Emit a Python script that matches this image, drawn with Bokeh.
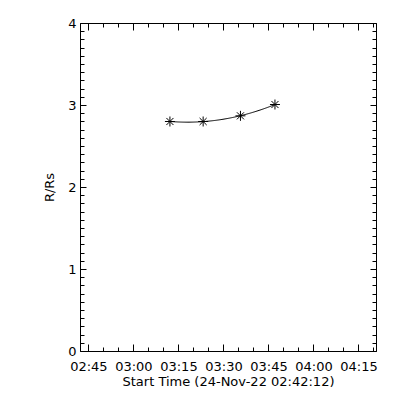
import numpy as np
import pandas as pd
from bokeh.plotting import figure
from bokeh.models import (Range1d, LinearAxis, DatetimeAxis, FixedTicker,
                          SingleIntervalTicker, DatetimeTickFormatter,
                          CustomLabelingPolicy)
from bokeh.embed import file_html
from bokeh.resources import INLINE

# ---- data ----
date = "2022-11-24"
start_time = "02:42:12"
end_time = "04:20:50"
times = ["03:12:00", "03:23:04", "03:35:30", "03:47:00"]
heights = [2.805, 2.805, 2.874, 3.012]
x_tick_labels = ["02:45", "03:00", "03:15", "03:30", "03:45", "04:00", "04:15"]
y_range = [0, 4]
x_title = "Start Time (24-Nov-22 02:42:12)"
y_title = "R/Rs"

def to_ms(hms):
    return pd.Timestamp(f"{date} {hms}").value / 1e6

t_ms = np.array([to_ms(t) for t in times])
h = np.array(heights)

# quadratic fit through the points (as drawn by the original)
rel = (t_ms - t_ms[0]) / 60000.0
coef = np.polyfit(rel, h, 2)
fit_rel = np.linspace(rel[0], rel[-1], 100)
fit_t = t_ms[0] + fit_rel * 60000.0
fit_h = np.polyval(coef, fit_rel)

x0, x1 = to_ms(start_time), to_ms(end_time)
major = [to_ms(l + ":00") for l in x_tick_labels]
step = 5 * 60000.0
minor = list(np.arange(major[0] - step, x1, step))

FONT = "DejaVu Sans"
FS = "13px"

p = figure(width=392, height=392, output_backend="svg", toolbar_location=None,
           x_axis_type=None, y_axis_type=None,
           x_range=Range1d(x0, x1), y_range=Range1d(*y_range),
           min_border_left=80, min_border_right=16, min_border_top=23,
           min_border_bottom=41)
p.outline_line_color = None
p.xgrid.visible = False
p.ygrid.visible = False
p.background_fill_color = "white"
p.border_fill_color = "white"

fmt = DatetimeTickFormatter(seconds="%H:%M", minsec="%H:%M", minutes="%H:%M",
                            hourmin="%H:%M", hours="%H:%M", days="%H:%M")
fmt.context = None

no_labels = CustomLabelingPolicy(code="if (false) { yield 0 }")

def style(ax, labels=True, tin=7, tmin=4):
    ax.axis_line_color = "black"
    ax.axis_line_width = 1
    ax.major_tick_in = tin
    ax.major_tick_out = 0
    ax.minor_tick_in = tmin
    ax.minor_tick_out = 0
    ax.major_tick_line_color = "black"
    ax.minor_tick_line_color = "black"
    if labels:
        ax.major_label_text_font = FONT
        ax.major_label_text_font_size = FS
        ax.major_label_text_color = "black"
        ax.axis_label_text_font = FONT
        ax.axis_label_text_font_size = FS
        ax.axis_label_text_font_style = "normal"
        ax.axis_label_text_color = "black"
    else:
        ax.major_label_text_font_size = "0px"
        ax.major_label_standoff = 0
        ax.major_label_policy = no_labels

xt = FixedTicker(ticks=major, minor_ticks=minor)
yt = SingleIntervalTicker(interval=1, num_minor_ticks=10)

xb = DatetimeAxis(ticker=xt, formatter=fmt, axis_label=x_title)
style(xb)
xb.major_label_standoff = 7
xb.axis_label_standoff = -3
p.add_layout(xb, "below")

xa = DatetimeAxis(ticker=xt, formatter=fmt)
style(xa, labels=False)
p.add_layout(xa, "above")

yl = LinearAxis(ticker=yt, axis_label=y_title)
style(yl, tin=6)
yl.major_label_standoff = 4
yl.axis_label_standoff = 8
yl.major_label_orientation = "horizontal"
p.add_layout(yl, "left")

yr = LinearAxis(ticker=yt)
style(yr, labels=False, tin=6)
p.add_layout(yr, "right")

p.line(fit_t, fit_h, line_color="black", line_width=1)
p.scatter(t_ms, h, marker="asterisk", size=10, line_color="black", line_width=1)

open("out.html", "w").write(file_html(p, INLINE))
